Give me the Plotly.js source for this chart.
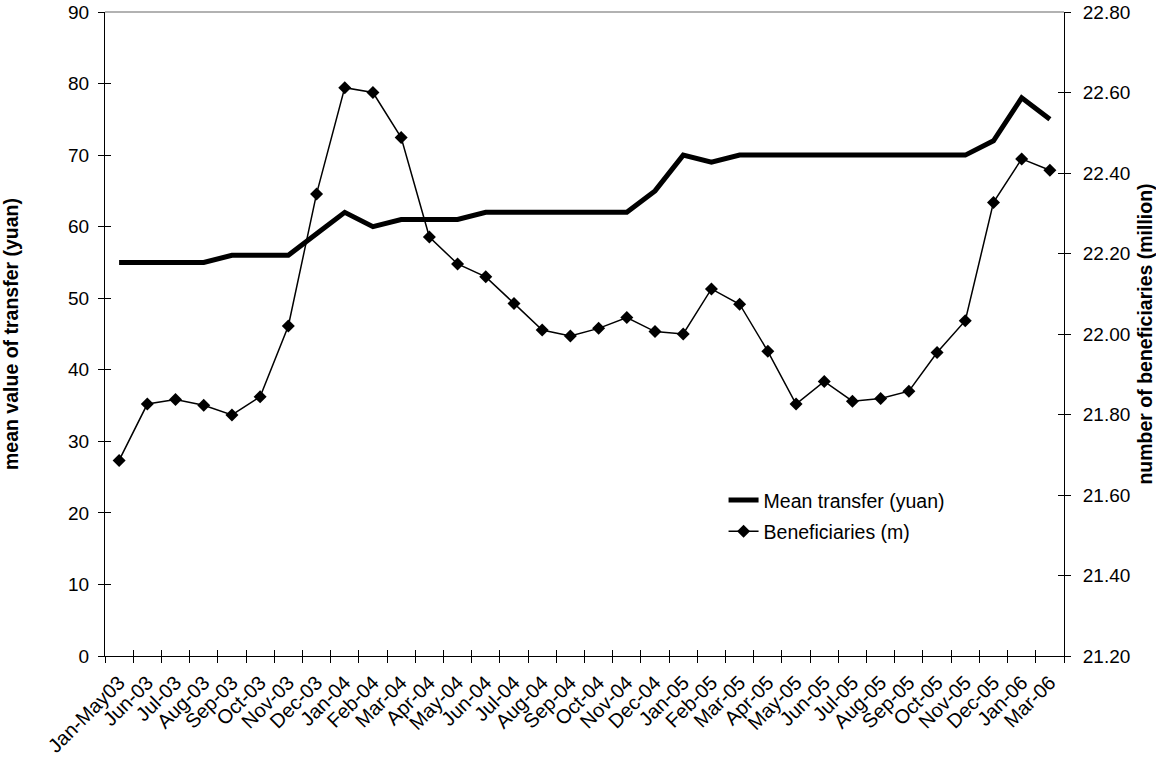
<!DOCTYPE html>
<html>
<head>
<meta charset="utf-8">
<script src="https://cdn.plot.ly/plotly-3.0.1.min.js"></script>
<style>html,body{margin:0;padding:0;background:#fff;}#chart{width:1156px;height:758px;}</style>
</head>
<body>
<div id="chart"></div>
<script>
var categories = ["Jan-May03","Jun-03","Jul-03","Aug-03","Sep-03","Oct-03","Nov-03","Dec-03",
  "Jan-04","Feb-04","Mar-04","Apr-04","May-04","Jun-04","Jul-04","Aug-04","Sep-04","Oct-04","Nov-04","Dec-04",
  "Jan-05","Feb-05","Mar-05","Apr-05","May-05","Jun-05","Jul-05","Aug-05","Sep-05","Oct-05","Nov-05","Dec-05",
  "Jan-06","Mar-06"];
var meanTransfer = [55,55,55,55,56,56,56,59,62,60,61,61,61,62,62,62,62,62,62,65,70,69,70,70,70,70,70,70,70,70,70,72,78,75];
var beneficiaries = [21.686,21.826,21.837,21.823,21.799,21.844,22.020,22.348,22.612,22.600,22.488,22.241,22.174,22.142,
  22.076,22.010,21.995,22.014,22.041,22.006,22.000,22.112,22.074,21.957,21.826,21.882,21.833,21.840,21.858,21.954,
  22.033,22.327,22.435,22.407];
var leftTicks = [0,10,20,30,40,50,60,70,80,90];
var rightTicks = [21.2,21.4,21.6,21.8,22.0,22.2,22.4,22.6,22.8];
var rightTickText = ["21.20","21.40","21.60","21.80","22.00","22.20","22.40","22.60","22.80"];

var FONT = "Liberation Sans, Arial, sans-serif";
var nulls = categories.map(function(){return null;});

var traces = [
  {x: categories, y: meanTransfer, type: "scatter", mode: "lines", name: "Mean transfer (yuan)",
   legendgroup: "a", line: {color: "#000", width: 5}, xaxis: "x", yaxis: "y"},
  {x: categories, y: beneficiaries, type: "scatter", mode: "lines+markers", name: "Beneficiaries (m)",
   legendgroup: "b", line: {color: "#000", width: 1.5}, marker: {symbol: "diamond", size: 10, color: "#000"},
   xaxis: "x", yaxis: "y2"},
  // helper traces so inner-tick overlay axes are drawn
  {x: categories, y: nulls, type: "scatter", mode: "lines", showlegend: false, hoverinfo: "skip", xaxis: "x3", yaxis: "y3"},
  {x: categories, y: nulls, type: "scatter", mode: "lines", showlegend: false, hoverinfo: "skip", xaxis: "x3", yaxis: "y4"}
];

var catRange = [-0.5, categories.length - 0.5];
var leftRange = [0, 90.0005];
var rightRange = [21.2, 22.80001];
var layout = {
  width: 1156, height: 758,
  margin: {l: 105, r: 92, t: 12, b: 102},
  paper_bgcolor: "#fff", plot_bgcolor: "#fff",
  font: {family: FONT, size: 19, color: "#000"},
  showlegend: true,
  legend: {x: 0.645, y: 0.272, xanchor: "left", yanchor: "top", bgcolor: "rgba(0,0,0,0)",
           traceorder: "grouped", tracegroupgap: 3,
           font: {family: FONT, size: 19.5, color: "#000"}},
  xaxis: {type: "category", categoryorder: "array", categoryarray: categories, range: catRange,
          showgrid: false, zeroline: false, showline: true, linecolor: "#000", linewidth: 1,
          ticks: "outside", ticklen: 6, tickcolor: "#000", tickson: "boundaries", tickangle: -45,
          ticklabelstandoff: 6,
          tickfont: {family: FONT, size: 20, color: "#000"}, anchor: "y"},
  xaxis3: {type: "category", categoryorder: "array", categoryarray: categories, range: catRange,
           overlaying: "x", anchor: "y3", showgrid: false, zeroline: false, showline: false,
           ticks: "inside", ticklen: 6, tickcolor: "#000", tickson: "boundaries", showticklabels: false},
  yaxis: {range: leftRange, tickvals: leftTicks, showgrid: false, zeroline: false,
          showline: true, linecolor: "#000", linewidth: 1, ticklabeloverflow: "allow",
          ticks: "outside", ticklen: 6, tickcolor: "#000", ticklabelstandoff: 5,
          tickfont: {family: FONT, size: 19, color: "#000"},
          title: {text: "<b>mean value of transfer (yuan)</b>", font: {family: FONT, size: 19.5, color: "#000"}, standoff: 44}},
  yaxis3: {range: leftRange, tickvals: leftTicks, overlaying: "y", side: "left", anchor: "x3",
           showgrid: false, zeroline: false, showline: false,
           ticks: "inside", ticklen: 6, tickcolor: "#000", showticklabels: false},
  yaxis2: {range: rightRange, tickvals: rightTicks, ticktext: rightTickText, overlaying: "y", side: "right", anchor: "x",
           showgrid: false, zeroline: false, showline: true, linecolor: "#000", linewidth: 1, ticklabeloverflow: "allow",
           ticks: "outside", ticklen: 6, tickcolor: "#000", ticklabelstandoff: 8,
           tickfont: {family: FONT, size: 19, color: "#000"},
           title: {text: "<b>number of beneficiaries (million)</b>", font: {family: FONT, size: 19.5, color: "#000"}, standoff: 9}},
  yaxis4: {range: rightRange, tickvals: rightTicks, overlaying: "y", side: "right", anchor: "x3",
           showgrid: false, zeroline: false, showline: false,
           ticks: "inside", ticklen: 6, tickcolor: "#000", showticklabels: false},
  shapes: [{type: "line", xref: "paper", yref: "paper", x0: 0, x1: 1, y0: 1, y1: 1,
            line: {color: "#999", width: 1.5}}]
};

Plotly.newPlot("chart", traces, layout, {displayModeBar: false, staticPlot: true});
</script>
</body>
</html>
